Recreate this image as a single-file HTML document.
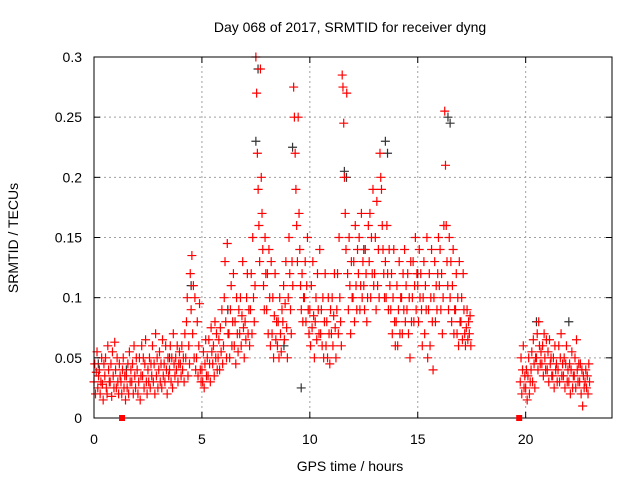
<!DOCTYPE html>
<html><head><meta charset="utf-8"><style>
body{margin:0;background:#fff}
svg{display:block;font-family:"Liberation Sans",sans-serif}
</style></head><body>
<svg id="chart" width="640" height="480">
<text x="350" y="32" font-size="14" text-anchor="middle">Day 068 of 2017, SRMTID for receiver dyng</text>
<text x="350" y="471" font-size="14" text-anchor="middle">GPS time / hours</text>
<text x="18" y="238" font-size="14" text-anchor="middle" transform="rotate(-90 18 238)">SRMTID / TECUs</text>
<g id="grid"></g><g id="black"></g><g id="red"></g><g id="axes"></g>
</svg>
<script>
const xTicks=[0,5,10,15,20];
const yTicks=[0,0.05,0.1,0.15,0.2,0.25,0.3];
const yTickLabels=["0","0.05","0.1","0.15","0.2","0.25","0.3"];
const groupHours=[0,0.25,0.5,0.75,1,1.25,1.5,1.75,2,2.25,2.5,2.75,3,3.25,3.5,3.75,4,4.25,4.5,4.75,5,5.25,5.5,5.75,6,6.25,6.5,6.75,7,7.25,7.5,7.75,8,8.25,8.5,8.75,9,9.25,9.5,9.75,10,10.25,10.5,10.75,11,11.25,11.5,11.75,12,12.25,12.5,12.75,13,13.25,13.5,13.75,14,14.25,14.5,14.75,15,15.25,15.5,15.75,16,16.25,16.5,16.75,17,17.25,19.75,20,20.25,20.5,20.75,21,21.25,21.5,21.75,22,22.25,22.5,22.75];
const redValues=[
[0.03,0.045,0.02,0.038,0.055,0.025,0.035],[0.04,0.02,0.03,0.05,0.028,0.015,0.045],[0.035,0.05,0.025,0.02,0.06,0.04,0.03],[0.03,0.045,0.018,0.055,0.035,0.025,0.063],
[0.04,0.025,0.05,0.03,0.02,0.045,0.035],[0.03,0.02,0.04,0.05,0.025,0.035,0.015],[0.035,0.025,0.045,0.02,0.055,0.03,0.04],[0.03,0.045,0.02,0.06,0.035,0.025,0.05],
[0.04,0.02,0.03,0.05,0.015,0.035,0.06],[0.035,0.05,0.025,0.045,0.065,0.03,0.02],[0.04,0.03,0.05,0.025,0.045,0.035,0.06],[0.03,0.045,0.02,0.07,0.035,0.05,0.025],
[0.04,0.055,0.03,0.045,0.025,0.065,0.035],[0.045,0.03,0.06,0.04,0.02,0.05,0.035],[0.04,0.06,0.03,0.05,0.025,0.07,0.045],[0.035,0.05,0.04,0.06,0.03,0.045,0.055],
[0.045,0.035,0.06,0.04,0.05,0.03,0.07],[0.05,0.08,0.1,0.035,0.06,0.045,0.12],[0.09,0.135,0.07,0.11,0.05,0.1,0.04],[0.05,0.08,0.035,0.06,0.095,0.04,0.03],
[0.04,0.03,0.055,0.025,0.045,0.065,0.035],[0.05,0.035,0.065,0.045,0.03,0.075,0.055],[0.045,0.06,0.035,0.08,0.05,0.07,0.04],[0.05,0.065,0.04,0.075,0.055,0.09,0.045],
[0.06,0.1,0.13,0.08,0.05,0.145,0.07],[0.07,0.05,0.09,0.11,0.06,0.08,0.12],[0.06,0.08,0.045,0.1,0.07,0.055,0.09],[0.07,0.1,0.06,0.085,0.13,0.075,0.05],
[0.08,0.065,0.1,0.12,0.07,0.09,0.06],[0.09,0.12,0.07,0.15,0.1,0.08,0.11],[0.3,0.27,0.22,0.19,0.16,0.13,0.29],[0.2,0.17,0.14,0.11,0.09,0.15,0.12],
[0.09,0.12,0.07,0.14,0.1,0.06,0.13],[0.07,0.1,0.05,0.085,0.12,0.065,0.08],[0.06,0.08,0.05,0.1,0.07,0.055,0.09],[0.08,0.11,0.065,0.095,0.13,0.075,0.05],
[0.1,0.15,0.12,0.09,0.07,0.13,0.11],[0.275,0.25,0.22,0.19,0.16,0.13,0.25],[0.17,0.14,0.11,0.09,0.12,0.08,0.1],[0.1,0.13,0.08,0.11,0.15,0.09,0.07],
[0.09,0.06,0.11,0.075,0.13,0.085,0.05],[0.08,0.1,0.065,0.12,0.09,0.07,0.14],[0.07,0.09,0.06,0.1,0.05,0.08,0.12],[0.06,0.08,0.05,0.1,0.07,0.045,0.09],
[0.07,0.1,0.06,0.085,0.12,0.075,0.05],[0.09,0.12,0.07,0.15,0.1,0.08,0.06],[0.285,0.275,0.245,0.2,0.17,0.14,0.27],[0.12,0.09,0.15,0.11,0.07,0.13,0.1],
[0.1,0.13,0.08,0.16,0.11,0.09,0.14],[0.12,0.15,0.09,0.11,0.17,0.1,0.13],[0.11,0.09,0.14,0.12,0.08,0.1,0.16],[0.13,0.17,0.1,0.15,0.12,0.19,0.11],
[0.12,0.15,0.09,0.18,0.11,0.14,0.1],[0.22,0.2,0.19,0.16,0.14,0.12,0.1],[0.13,0.1,0.16,0.12,0.09,0.14,0.11],[0.09,0.12,0.07,0.1,0.14,0.08,0.06],
[0.08,0.11,0.06,0.09,0.13,0.07,0.1],[0.1,0.07,0.12,0.09,0.14,0.08,0.11],[0.09,0.12,0.07,0.1,0.05,0.13,0.08],[0.1,0.13,0.08,0.11,0.15,0.09,0.12],
[0.11,0.08,0.14,0.1,0.12,0.09,0.06],[0.1,0.13,0.07,0.11,0.09,0.15,0.05],[0.09,0.12,0.06,0.1,0.14,0.08,0.04],[0.1,0.13,0.08,0.11,0.09,0.12,0.15],
[0.11,0.14,0.09,0.12,0.07,0.1,0.16],[0.255,0.21,0.16,0.13,0.11,0.09,0.15],[0.1,0.13,0.08,0.11,0.14,0.07,0.09],[0.09,0.12,0.07,0.1,0.06,0.13,0.08],
[0.08,0.1,0.065,0.12,0.09,0.07,0.06],[0.075,0.09,0.065,0.08,0.07,0.085,0.06],
[0.03,0.05,0.02,0.04,0.06,0.025,0.035],[0.025,0.04,0.015,0.035,0.05,0.02,0.03],[0.04,0.055,0.03,0.065,0.045,0.025,0.05],[0.05,0.07,0.04,0.08,0.06,0.045,0.055],
[0.045,0.06,0.035,0.07,0.05,0.04,0.065],[0.04,0.055,0.03,0.065,0.045,0.05,0.035],[0.035,0.05,0.025,0.06,0.04,0.045,0.03],[0.04,0.06,0.03,0.05,0.07,0.035,0.045],
[0.035,0.05,0.025,0.045,0.06,0.03,0.04],[0.03,0.045,0.02,0.04,0.055,0.025,0.035],[0.035,0.05,0.025,0.065,0.04,0.03,0.045],[0.03,0.045,0.02,0.04,0.01,0.035,0.025],
[0.03,0.04,0.025,0.035,0.02,0.045,0.03]];
const blackHours=[0.2,1.5,3.5,4.5,6.2,7.5,7.6,8.8,9.2,9.6,11.6,11.7,12.5,13.5,13.6,15,16.4,16.5,20.5,22];
const blackValues=[0.045,0.04,0.05,0.11,0.09,0.23,0.29,0.06,0.225,0.025,0.205,0.2,0.14,0.23,0.22,0.12,0.25,0.245,0.08,0.08];
const X0=94,X1=612,Y0=418,Y1=57,XMAX=24,YMAX=0.3;
const sx=v=>X0+(X1-X0)*v/XMAX, sy=v=>Y0-(Y0-Y1)*v/YMAX;
const NS="http://www.w3.org/2000/svg";
function mk(tag,attrs,parent){const e=document.createElementNS(NS,tag);for(const k in attrs)e.setAttribute(k,attrs[k]);parent.appendChild(e);return e;}
const grid=document.getElementById('grid'),axes=document.getElementById('axes');
xTicks.forEach(t=>{
 if(t>0){const g=mk('line',{x1:sx(t),x2:sx(t),y1:Y0,y2:Y1,stroke:'#a0a0a0','stroke-dasharray':'2,3'},grid);
 
 }
 const l=mk('text',{x:sx(t),y:Y0+26,'font-size':14,'text-anchor':'middle'},axes);l.textContent=t;
 
 
 mk('line',{x1:sx(t),x2:sx(t),y1:Y0,y2:Y0-6,stroke:'#000'},axes);
 mk('line',{x1:sx(t),x2:sx(t),y1:Y1,y2:Y1+6,stroke:'#000'},axes);
});
yTicks.forEach((t,i)=>{
 if(t>0&&t<YMAX){const g=mk('line',{x1:X0,x2:X1,y1:sy(t),y2:sy(t),stroke:'#a0a0a0','stroke-dasharray':'2,3'},grid);
 
 }
 const l=mk('text',{x:X0-12,y:sy(t)+5,'font-size':14,'text-anchor':'end'},axes);l.textContent=yTickLabels[i];
 
 
 mk('line',{x1:X0,x2:X0+6,y1:sy(t),y2:sy(t),stroke:'#000'},axes);
 mk('line',{x1:X1,x2:X1-6,y1:sy(t),y2:sy(t),stroke:'#000'},axes);
});
const box=mk('rect',{x:X0,y:Y1,width:X1-X0,height:Y0-Y1,fill:'none',stroke:'#000'},axes);


function plus(x,y,col,parent){const p=mk('path',{d:`M${x-4.5},${y}h9M${x},${y-4.5}v9`,stroke:col,'stroke-width':1.2},parent);return p;}
const blk=document.getElementById('black');
blackHours.forEach((h,i)=>{const p=plus(sx(h),sy(blackValues[i]),'#333',blk);
 
 });
const red=document.getElementById('red');
groupHours.forEach((h,i)=>{redValues[i].forEach((v,j)=>{
 const p=plus(sx(h+j*0.035),sy(v),'#ff0000',red);
 
 });});
const markerHours=[1.3,19.7];
markerHours.forEach(h=>{const r=mk('rect',{x:sx(h)-3,y:Y0-3,width:6,height:6,fill:'#ff0000'},axes);
 
 });
</script>
</body></html>
